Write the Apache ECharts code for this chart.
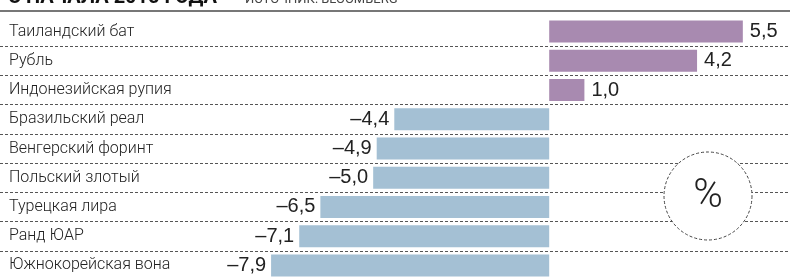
<!DOCTYPE html>
<html>
<head>
<meta charset="utf-8">
<script src="https://cdn.jsdelivr.net/npm/echarts@6/dist/echarts.min.js"></script>
<style>
  html, body { margin: 0; padding: 0; background: #fff; }
  #app { width: 790px; height: 280px; }
</style>
</head>
<body>
<div id="app"></div>
<script>
const categories = [
  'Таиландский бат',
  'Рубль',
  'Индонезийская рупия',
  'Бразильский реал',
  'Венгерский форинт',
  'Польский злотый',
  'Турецкая лира',
  'Ранд ЮАР',
  'Южнокорейская вона'
]
const values = [5.5, 4.2, 1.0, -4.4, -4.9, -5.0, -6.5, -7.1, -7.9]

const titleText = 'С НАЧАЛА 2015 ГОДА'
const sourceText = 'ИСТОЧНИК: BLOOMBERG'

const echart = echarts.init(document.getElementById('app'))

// запятая вместо точки и длинный минус, как в газете
const fmt = v => (v < 0 ? '–' : '') + Math.abs(v).toFixed(1).replace('.', ',')

echart.setOption({
  animation: false,
  grid: { left: 0, right: 0, top: 17, bottom: -7 },
  xAxis: {
    type: 'value',
    min: -15.6,
    max: 6.84,
    show: false
  },
  yAxis: {
    type: 'category',
    inverse: true,
    data: categories,
    axisLine: { show: false },
    axisTick: { show: false },
    axisLabel: {
      inside: true,
      margin: 9,
      color: '#222',
      fontSize: 16,
      fontWeight: 300,
      fontFamily: 'Roboto',
      padding: [3, 0, 0, 0]
    },
    splitLine: {
      show: true,
      interval: i => i > 0,
      lineStyle: { color: '#555', type: [3, 2], width: 1 }
    }
  },
  series: [{
    type: 'bar',
    barWidth: 22,
    data: values.map(v => ({
      value: v,
      itemStyle: { color: v >= 0 ? '#a88ab0' : '#a4c0d4' },
      label: {
        show: true,
        position: v >= 0 ? 'right' : 'left',
        distance: v >= 0 ? 7 : 5,
        formatter: p => fmt(p.value),
        color: '#222',
        fontSize: 20,
        fontFamily: 'Liberation Sans'
      }
    }))
  }],
  graphic: [
    {
      type: 'text',
      left: 8,
      top: -12,
      style: {
        text: titleText,
        fontSize: 20,
        fontWeight: 'bold',
        fontFamily: 'Roboto',
        fill: '#111'
      }
    },
    {
      type: 'text',
      left: 245,
      top: -7,
      style: {
        text: sourceText,
        fontSize: 13,
        fontFamily: 'Roboto',
        fill: '#444'
      }
    },
    {
      type: 'rect',
      shape: { x: 0, y: 10, width: 790, height: 2 },
      style: { fill: '#777' }
    },
    {
      type: 'circle',
      z: 100,
      shape: { cx: 708, cy: 196, r: 44 },
      style: { fill: '#fff', stroke: '#444', lineWidth: 1, lineDash: [3, 2] }
    },
    {
      type: 'text',
      z: 101,
      x: 708,
      y: 197,
      style: {
        text: '%',
        fontSize: 40,
        fontWeight: 300,
        fontFamily: 'Roboto',
        fill: '#222',
        align: 'center',
        verticalAlign: 'middle'
      }
    }
  ]
})
</script>
</body>
</html>
